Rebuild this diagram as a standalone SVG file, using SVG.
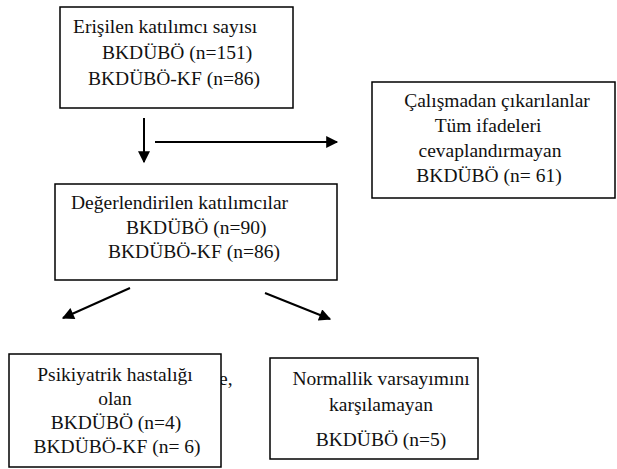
<svg xmlns="http://www.w3.org/2000/svg" width="617" height="469" viewBox="0 0 617 469">
<style>
.box{fill:#fff;stroke:#000;stroke-width:1.5}
.c{text-anchor:middle}
.ln{stroke:#000;stroke-width:2;fill:none}
text{font-family:'Times New Roman','Liberation Serif','DejaVu Serif',serif;font-size:19.5px;fill:#111}
</style>
<defs>
<marker id="ah" viewBox="0 0 10 10" refX="9" refY="5" markerWidth="6.5" markerHeight="6" markerUnits="strokeWidth" orient="auto">
<path d="M0,0 L10,5 L0,10 z" fill="#000"/>
</marker>
</defs>
<rect width="617" height="469" fill="#fff"/>
<g id="n1">
<rect class="box" x="60" y="7" width="233" height="101"/>
<text x="73" y="33" style="font-family:'Liberation Serif',serif;font-size:19.5px">Erişilen katılımcı sayısı</text>
<text x="102" y="59">BKDÜBÖ (n=151)</text>
<text x="88" y="85">BKDÜBÖ-KF (n=86)</text>
</g>
<g id="n2">
<rect class="box" x="372" y="82" width="243" height="116"/>
<text class="c" x="497" y="107">Çalışmadan çıkarılanlar</text>
<text class="c" x="488" y="132">Tüm ifadeleri</text>
<text class="c" x="490" y="157">cevaplandırmayan</text>
<text class="c" x="489" y="182">BKDÜBÖ (n= 61)</text>
</g>
<g id="n3">
<rect class="box" x="55" y="184" width="282" height="96"/>
<text x="71" y="209">Değerlendirilen katılımcılar</text>
<text x="126" y="234">BKDÜBÖ (n=90)</text>
<text x="108" y="258">BKDÜBÖ-KF (n=86)</text>
</g>
<text x="219" y="385">e,</text>
<g id="n4">
<rect class="box" x="9" y="354" width="212" height="113"/>
<text class="c" x="115" y="381">Psikiyatrik hastalığı</text>
<text class="c" x="115" y="405">olan</text>
<text class="c" x="116" y="429">BKDÜBÖ (n=4)</text>
<text class="c" x="117" y="453">BKDÜBÖ-KF (n= 6)</text>
</g>
<g id="n5">
<rect class="box" x="270" y="358" width="208" height="101"/>
<text class="c" x="381" y="385">Normallik varsayımını</text>
<text class="c" x="381" y="411">karşılamayan</text>
<text class="c" x="381" y="446">BKDÜBÖ (n=5)</text>
</g>
<g id="connectors">
<line class="ln" x1="144" y1="118" x2="144" y2="162" marker-end="url(#ah)"/>
<line class="ln" x1="155" y1="142" x2="337" y2="142" marker-end="url(#ah)"/>
<line class="ln" x1="130" y1="288" x2="63" y2="318" marker-end="url(#ah)"/>
<line class="ln" x1="265" y1="293" x2="330" y2="319" marker-end="url(#ah)"/>
</g>
</svg>
